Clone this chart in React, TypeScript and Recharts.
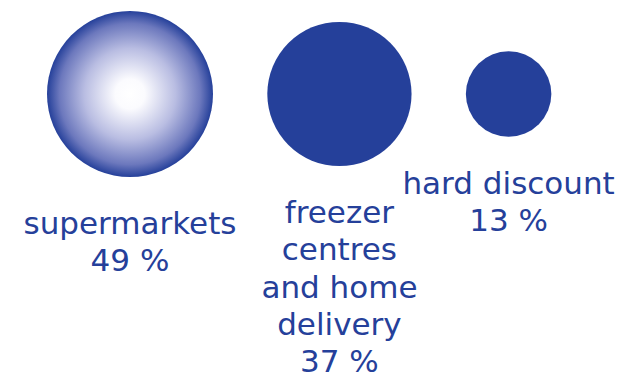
import React from 'react';
import { ScatterChart, Scatter, XAxis, YAxis, ZAxis, Cell } from 'recharts';

// market share by channel
const channels = ['supermarkets', 'freezer centres and home delivery', 'hard discount'];
const labelLines = [['supermarkets'], ['freezer', 'centres', 'and home', 'delivery'], ['hard discount']];
const shares = [49, 37, 13];

const BLUE = '#25409A';
const W = 619;
const H = 379;
const PX_PER_UNIT = 83 / 7; // bubble radius in px for sqrt(share) units
const GAP = 4.58;

// packed row: each bubble sits next to the previous one, radius ~ sqrt(share)
const rad = shares.map(v => Math.sqrt(v));
const data = shares.map((v, i) => {
  let x = 0;
  for (let j = 0; j < i; j++) x += 2 * rad[j] + GAP;
  return { x: x + rad[i], y: 0, z: v, name: channels[i], lines: labelLines[i] };
});

const xStart = rad[0] - 130 / PX_PER_UNIT;
const yTop = 94 / PX_PER_UNIT;

const Bubble = (props: any) => {
  const { cx, cy, width, payload, fill } = props;
  const r = width / 2;
  const base = cy + r + 57;
  return (
    <g>
      <defs>
        <radialGradient id="bubbleGrad" cx="50%" cy="50%" r="50%">
          <stop offset="0%" stopColor="#ffffff" />
          <stop offset="18%" stopColor="#fbfbfe" />
          <stop offset="55%" stopColor="#b9bde2" />
          <stop offset="85%" stopColor="#6c78bd" />
          <stop offset="100%" stopColor={BLUE} />
        </radialGradient>
      </defs>
      <circle cx={cx} cy={cy} r={r} fill={fill} />
      <text textAnchor="middle" fill={BLUE} fontFamily="DejaVu Sans" fontSize={31}>
        {payload.lines.map((l: string, i: number) => (
          <tspan key={i} x={cx} y={base + i * 37.3}>{l}</tspan>
        ))}
        <tspan x={cx} y={base + payload.lines.length * 37.3}>{payload.z} %</tspan>
      </text>
    </g>
  );
};

export default function App() {
  return (
    <div style={{ position: 'absolute', left: 0, top: 0, width: W, height: H, background: '#fff' }}>
      <ScatterChart width={W} height={H} margin={{ top: 0, right: 0, bottom: 0, left: 0 }}>
        <XAxis type="number" dataKey="x" hide domain={[xStart, xStart + W / PX_PER_UNIT]} />
        <YAxis type="number" dataKey="y" hide domain={[yTop - H / PX_PER_UNIT, yTop]} />
        <ZAxis type="number" dataKey="z" domain={[0, 49]} range={[0, Math.PI * 83 * 83]} />
        <Scatter data={data} shape={<Bubble />} isAnimationActive={false}>
          {data.map((d, i) => (
            <Cell key={d.name} fill={i === 0 ? 'url(#bubbleGrad)' : BLUE} />
          ))}
        </Scatter>
      </ScatterChart>
    </div>
  );
}
